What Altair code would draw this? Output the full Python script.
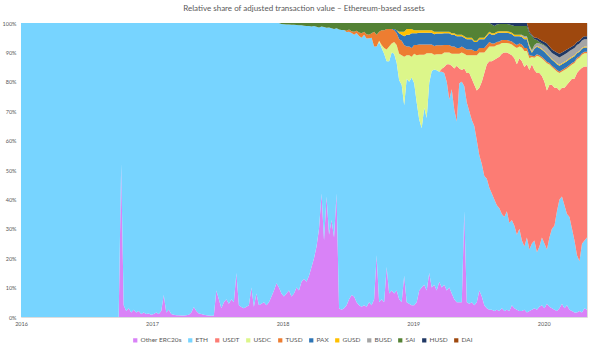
import altair as alt
import pandas as pd

# ---------------- data (weekly shares, %) ----------------
start_date = "2016-01-01"
n_weeks = 227

asset_names = ["Other ERC20s", "ETH", "USDT", "USDC", "TUSD", "PAX",
               "GUSD", "BUSD", "SAI", "HUSD", "DAI"]
asset_colors = ["#D982F7", "#77D4FF", "#FC7C74", "#DCF68A", "#ED7D31", "#2E75B6",
                "#FFC000", "#A5A5A5", "#548235", "#203864", "#9E480E"]

other_erc20s = [0] * 40 + [
    52, 4, 2, 3, 1.5, 2.5, 1.5, 2, 1, 1.5,
    1, 1.2, 0.8, 1, 1.5, 1, 2, 7.5, 1.5, 2.5,
    1, 0.8, 0.6, 0.6, 0.5, 0.5, 0.6, 0.8, 1.5, 3.4,
    2, 1.2, 1, 0.8, 0.6, 0.5, 0.4, 0.5, 9, 6,
    3, 5, 6, 4.5, 6, 5, 15, 4, 3.4, 3,
    3.5, 4, 10, 3.5, 8, 4, 4.5, 5, 4, 5,
    7, 9, 11.5, 10, 8, 7, 8, 9, 7, 8,
    10, 9, 12, 13, 12, 14, 17, 20, 24, 30,
    42, 26, 41, 28, 33, 27, 42, 3, 2.5, 3,
    4, 6, 7.5, 7, 5, 4, 3.5, 4, 3.5, 5,
    4, 6, 21, 5, 6, 5, 17, 8, 9, 8,
    9, 6, 5, 14, 5, 4.5, 4, 4, 5, 9,
    10, 11, 9, 15, 10, 11, 9, 12, 10, 11,
    9, 10, 8, 6, 5, 5, 5, 36, 5, 4.5,
    5, 4, 5, 9, 7, 4, 3, 2.5, 2.5, 2,
    2.5, 2, 3, 2, 2.5, 2, 4, 3, 2.5, 2,
    2, 2.5, 1.5, 2, 2.5, 3, 2.5, 3.5, 4, 3,
    4.5, 3.5, 3, 2.5, 2, 3, 4.5, 3, 4, 2.5,
    2, 1.5, 1.5, 2, 1.5, 3, 2.5]

eth = [100] * 40 + [
    48, 96, 98, 97, 98.5, 97.5, 98.5, 98, 99, 98.5,
    99, 98.8, 99.2, 99, 98.5, 99, 98, 92.5, 98.5, 97.5,
    99, 99.2, 99.4, 99.4, 99.5, 99.5, 99.4, 99.2, 98.5, 96.6,
    98, 98.8, 99, 99.2, 99.4, 99.5, 99.6, 99.5, 91, 94,
    97, 95, 94, 95.5, 94, 95, 85, 96, 96.6, 97,
    96.5, 96, 90, 96.5, 92, 96, 95.5, 95, 96, 95,
    93, 91, 88.5, 90, 91.7, 92.6, 91.5, 90.5, 92.4, 91.4,
    89.3, 90.2, 87.2, 86.1, 87, 85, 81.8, 79, 74.7, 68.5,
    56.8, 72.6, 57.4, 70.5, 65.2, 71, 56.2, 94.8, 95.1, 94.6,
    92.9, 91, 89.1, 89, 91.6, 91.6, 91.5, 92, 91.2, 89.8,
    91, 86, 71, 88.5, 85.5, 84.5, 70, 79, 81, 81.5,
    77.5, 74.5, 74, 58, 76, 75.5, 77.5, 75.5, 68, 58.2,
    54.2, 60.2, 58.7, 64.7, 73.7, 73.2, 74.9, 71.4, 73.4, 72,
    71, 64, 69.5, 64.5, 61.5, 74.5, 75, 42.5, 68, 65.5,
    62, 61, 55, 46, 45, 44, 44, 41.5, 39.5, 38,
    35.5, 35, 32, 32, 33.5, 30, 29, 28, 25.5, 28,
    24, 21.5, 25.5, 21, 22.5, 23, 19.5, 20.5, 23, 22,
    18.5, 23.5, 27, 28.5, 34, 37, 36.5, 35, 31, 31.5,
    28, 24.5, 19.5, 17, 23.5, 23, 24.5]

usdt = [0] * 168 + [
    1, 2, 6, 12, 8, 14, 19, 5, 4, 6, 10, 13, 14, 14, 17, 23,
    28, 35, 39, 43, 45, 47.5, 50, 51.5, 54.5, 56, 54, 57.5, 56, 57, 58, 58, 61, 61, 59, 61, 61,
    58, 61, 59, 55, 55, 54, 52, 49, 47, 42, 37, 37, 40, 44, 46, 51, 55, 62, 65, 60, 59, 58]

usdc = [0] * 143 + [
    0.5, 1, 2, 4, 5, 3, 4, 6, 9, 10, 16.5, 8, 9, 7, 10, 16, 22, 25, 18, 22, 10, 6, 5, 5.5, 6,
    5, 5, 4, 4, 4, 5, 4, 5, 6, 5, 6, 6, 8, 10, 12, 12,
    10, 7, 5, 5, 5, 4.5, 4.5, 4.2, 3.7, 3.2, 3.2, 3.5, 3.7, 4, 5.5, 4, 4.7, 5.5, 4.5, 4, 2.4,
    4.2, 5.9, 5.5, 5.9, 7.2, 9.3, 6.9, 6, 6.3, 5.5, 6, 5.5, 6, 5.5, 5.2, 4.9, 5.4, 4.7, 4.2, 4.5, 4.5, 4.5]

tusd = [0] * 130 + [
    0.5, 0.8, 0.6, 1, 0.8, 1.2, 1.5, 1, 1.5, 1.2, 1.5,
    5, 4, 3, 5, 6, 7, 6, 5, 4, 4, 5, 5, 4, 3, 3, 3, 3, 3.5, 3.5, 3.5, 3.5, 3, 3, 3, 3, 3, 3,
    3, 2.5, 2.5, 2.5, 2.5, 2.5, 2, 2, 2, 2, 2, 2, 2, 1.5, 1.5, 1.5,
    1.5, 1.5, 1.5, 1.5, 1, 1, 1, 1, 1, 1, 1, 1, 1, 1, 1, 1, 1, 1, 1, 1, 0.5] + [0.5] * 22

pax = [0] * 149 + [
    0.5, 1, 2, 2, 3, 4, 4, 5, 4, 4, 4, 4, 4, 4, 4, 4, 4, 4, 4,
    4, 4, 4, 4, 4, 4, 4, 4, 3.5, 3.5, 3.5, 3.5, 3.5, 3, 3, 3,
    3, 3, 3, 3, 3, 3, 3, 3, 2.5, 2.5, 2.5, 2.5, 2.5, 2.5, 3, 2.5, 2.5, 3, 3, 2.5, 1,
    2.5, 2.5, 2.5, 2.5, 2.5, 2.5, 2, 2, 2, 2, 2, 2, 2, 2, 2, 1.8, 1.8, 1.5, 1.5, 1.5, 1.5, 1.5]

gusd = [0] * 151 + [
    0.5, 1, 1.5, 2, 2, 1.5, 1, 1, 0.8, 0.8, 0.8, 0.8, 0.8, 0.8, 0.8, 0.6, 0.6,
    0.6] + [0.5] * 15 + [0.5] * 20 + [0.3] + [0.3] * 22

busd = [0] * 200 + [
    0.3, 0.5, 0.5, 0.5, 0.5,
    1, 1, 1.2, 1.5, 1.8, 2, 2, 2, 2.2, 2.5, 2.5, 2.5, 2.5, 2.5, 2.5, 2.5, 2.5, 2.5, 2.5, 2.5, 2.5, 2.5]

sai = [0] * 104 + [
    0.3, 0.4, 0.5, 0.5, 0.6, 0.6, 0.7, 0.8, 0.8, 0.9, 1, 1,
    1.2, 1.0, 1.3, 1.5, 1.2, 1.4, 1.6, 1.5, 1.8, 2.0, 1.8, 2.2, 2.4,
    2.4, 2.6, 2.2, 2.8, 3.0, 2.6, 3.2, 3.5, 3.0, 3.8, 4.0, 3.5,
    3, 4, 3, 2.5, 2.5, 2, 2, 2, 2, 2.5, 3, 3, 3, 2, 2, 2, 2.5, 2.5, 2.5, 2.5, 2.5, 2.5, 2.5, 2.5, 3, 3, 3,
    3, 3, 3, 3, 3.5, 3.5, 4, 4, 4, 4.5, 5, 5, 5, 6, 6, 5,
    5, 5, 4, 3, 3, 2.5, 2.5, 2.5, 2.5, 2.5, 2.5, 2.5, 2.5, 3, 3, 3, 3, 3.5, 3.5, 4, 5,
    2, 1, 0.5, 0.3, 0.2, 0.2, 0.1] + [0] * 15

husd = [0] * 188 + [
    0.5, 1, 0.5, 0.3, 0.3, 0.3, 0.3, 0.5, 0.8, 1, 1, 1, 1, 1, 1, 0.5, 0.3,
    0.5, 0.8, 1, 1, 1, 1.2, 1.2, 1.2, 1.2, 1.2, 1.2, 1.2, 1.2, 1.2, 1, 1, 1, 1, 1, 1, 1, 1]

dai = [0] * 203 + [
    3, 4,
    5, 5, 5.5, 6, 6.5, 7, 8, 9, 9.5, 10, 10.5, 10, 9.5, 9, 8.5, 8, 7.5, 6.5, 6, 5, 4.5, 4.5]

series_values = [other_erc20s, eth, usdt, usdc, tusd, pax, gusd, busd, sai, husd, dai]

# ---------------- table ----------------
dates = pd.date_range(start_date, periods=n_weeks, freq="7D")
rows = []
for k, (name, vals) in enumerate(zip(asset_names, series_values)):
    assert len(vals) == n_weeks, (name, len(vals))
    for d, v in zip(dates, vals):
        rows.append({"date": d, "asset": name, "share": v, "stack_order": k})
df = pd.DataFrame(rows)

FONT = "Lato"
GREY = "#595959"

chart = alt.Chart(df).mark_area(interpolate="linear", strokeWidth=0).encode(
    x=alt.X("date:T",
            scale=alt.Scale(domain=[dates[0].strftime("%Y-%m-%d"), dates[-1].strftime("%Y-%m-%d")]),
            axis=alt.Axis(format="%Y", tickCount={"interval": "year", "step": 1},
                          grid=False, domain=False, ticks=False, title=None,
                          labelFontSize=5.5, labelColor=GREY, labelFont=FONT,
                          labelFlush=False, labelPadding=4)),
    y=alt.Y("share:Q", stack="normalize",
            scale=alt.Scale(domain=[0, 1], nice=False),
            axis=alt.Axis(format=".0%", values=[i / 10 for i in range(11)],
                          grid=False, domain=False, ticks=False, title=None,
                          labelFontSize=5.5, labelColor=GREY, labelFont=FONT,
                          labelPadding=5)),
    color=alt.Color("asset:N",
                    scale=alt.Scale(domain=asset_names, range=asset_colors),
                    legend=alt.Legend(orient="none", legendX=111, legendY=314,
                                      direction="horizontal", title=None,
                                      symbolType="square", symbolSize=18,
                                      symbolStrokeWidth=0, labelFontSize=6.5,
                                      labelFont=FONT, labelColor=GREY,
                                      columnPadding=5, labelOffset=2)),
    order=alt.Order("stack_order:Q", sort="ascending"),
).properties(
    width=566,
    height=294,
    title=alt.TitleParams("Relative share of adjusted transaction value \u2013 Ethereum-based assets",
                          fontSize=8, font=FONT, fontWeight="normal", color=GREY,
                          anchor="middle", offset=8),
    autosize=alt.AutoSizeParams(type="none"),
    padding={"left": 21, "top": 23, "right": 13, "bottom": 33},
).configure_view(stroke=None).configure(background="white")

chart.save("out.html", embed_options={"renderer": "svg", "actions": False})
